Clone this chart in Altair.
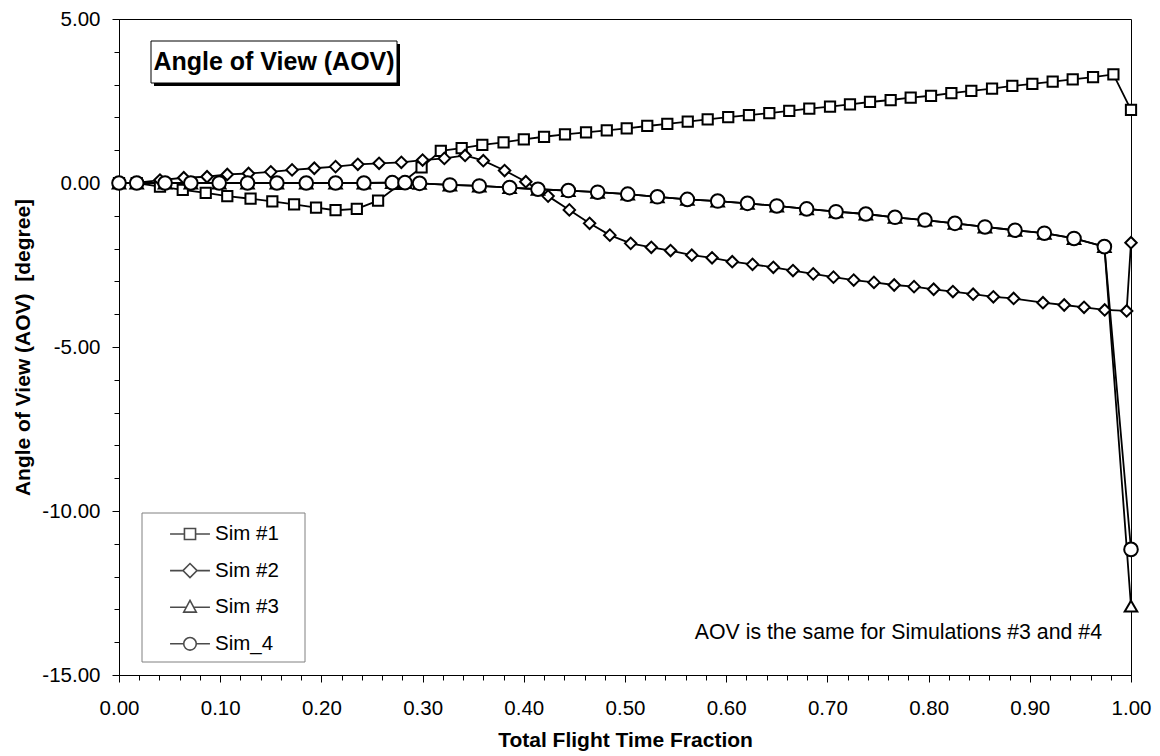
import altair as alt
import pandas as pd

FONT = "Liberation Sans"

series_names = ["Sim #1", "Sim #2", "Sim #3", "Sim_4"]

sim1_x = [0.0, 0.0175, 0.0405, 0.063, 0.0857, 0.107, 0.130, 0.1515, 0.173, 0.1947,
          0.214, 0.235, 0.256, 0.278, 0.299, 0.318, 0.3386, 0.359, 0.380, 0.400,
          0.420, 0.4407, 0.4615, 0.482, 0.5017, 0.522, 0.5418, 0.562, 0.5817, 0.602,
          0.6225, 0.6426, 0.6623, 0.6821, 0.7026, 0.7223, 0.7421, 0.7625, 0.7823, 0.8024,
          0.8225, 0.8422, 0.8627, 0.8827, 0.9025, 0.9226, 0.9424, 0.9625, 0.9826, 1.0]
sim1_y = [0.0, 0.0, -0.11, -0.21, -0.30, -0.40, -0.48, -0.56, -0.65, -0.75,
          -0.83, -0.79, -0.54, -0.03, 0.48, 0.98, 1.06, 1.16, 1.24, 1.33,
          1.41, 1.485, 1.545, 1.605, 1.668, 1.738, 1.80, 1.87, 1.94, 2.01,
          2.07, 2.13, 2.20, 2.265, 2.33, 2.40, 2.47, 2.53, 2.60, 2.66,
          2.74, 2.81, 2.88, 2.96, 3.02, 3.09, 3.16, 3.23, 3.31, 2.23]

sim2_x = [0.0, 0.019, 0.0405, 0.064, 0.087, 0.107, 0.128, 0.150, 0.171, 0.193,
          0.214, 0.236, 0.257, 0.279, 0.300, 0.3215, 0.342, 0.360, 0.381, 0.402,
          0.424, 0.445, 0.465, 0.485, 0.5056, 0.526, 0.545, 0.566, 0.586, 0.606,
          0.626, 0.6466, 0.666, 0.686, 0.706, 0.726, 0.746, 0.766, 0.7856, 0.805,
          0.824, 0.844, 0.864, 0.884, 0.913, 0.934, 0.9536, 0.974, 0.9957, 1.0]
sim2_y = [0.0, 0.01, 0.09, 0.16, 0.19, 0.26, 0.29, 0.34, 0.40, 0.45,
          0.50, 0.57, 0.60, 0.63, 0.70, 0.75, 0.84, 0.68, 0.38, 0.04,
          -0.40, -0.82, -1.23, -1.59, -1.84, -1.96, -2.06, -2.20, -2.28, -2.40,
          -2.48, -2.57, -2.67, -2.77, -2.87, -2.96, -3.03, -3.11, -3.16, -3.24,
          -3.31, -3.39, -3.47, -3.52, -3.65, -3.72, -3.79, -3.87, -3.90, -1.82]

sim34_x = [0.0, 0.0175, 0.0455, 0.071, 0.099, 0.127, 0.156, 0.185, 0.214, 0.242,
           0.270, 0.2826, 0.297, 0.327, 0.356, 0.386, 0.414, 0.444, 0.473, 0.5027,
           0.532, 0.5616, 0.5916, 0.621, 0.650, 0.6795, 0.7085, 0.738, 0.7668, 0.7964,
           0.826, 0.8557, 0.8854, 0.9144, 0.9437, 0.9737, 1.0]
sim3_y = [0.0, 0.0, 0.0, 0.0, 0.0, 0.0, 0.0, 0.0, 0.0, 0.0,
          0.01, 0.01, -0.01, -0.06, -0.09, -0.14, -0.19, -0.23, -0.28, -0.34,
          -0.42, -0.50, -0.55, -0.62, -0.70, -0.79, -0.875, -0.945, -1.046, -1.13,
          -1.23, -1.34, -1.44, -1.53, -1.69, -1.94, -12.9]
sim4_y = [0.0, 0.0, 0.0, 0.0, 0.0, 0.0, 0.0, 0.0, 0.0, 0.0,
          0.01, 0.01, -0.01, -0.06, -0.09, -0.14, -0.19, -0.23, -0.28, -0.34,
          -0.42, -0.50, -0.55, -0.62, -0.70, -0.79, -0.875, -0.945, -1.046, -1.13,
          -1.23, -1.34, -1.44, -1.53, -1.69, -1.94, -11.17]

x_major_ticks = [0.0, 0.1, 0.2, 0.3, 0.4, 0.5, 0.6, 0.7, 0.8, 0.9, 1.0]
x_minor_ticks = [round(i * 0.02, 2) for i in range(51)]
y_major_ticks = [-15, -10, -5, 0, 5]
y_minor_ticks = list(range(-15, 6))

chart_title = "Angle of View (AOV)"
note_text = "AOV is the same for Simulations #3 and #4"
x_title = "Total Flight Time Fraction"
y_title = "Angle of View (AOV)\u00a0 [degree]"

rows = []
for name, xs, ys in [("Sim #1", sim1_x, sim1_y), ("Sim #2", sim2_x, sim2_y),
                     ("Sim #3", sim34_x, sim3_y), ("Sim_4", sim34_x, sim4_y)]:
    for i, (xv, yv) in enumerate(zip(xs, ys)):
        rows.append({"series": name, "x": xv, "y": yv, "idx": i})
df = pd.DataFrame(rows)

W, H = 1012, 656
x_scale = alt.Scale(domain=[0, 1], nice=False, zero=False)
y_scale = alt.Scale(domain=[-15, 5], nice=False, zero=False)

x_axis_major = alt.Axis(
    values=x_major_ticks, orient="bottom", title=x_title, grid=False,
    domainColor="black", domainWidth=1, tickColor="black", tickWidth=1, tickSize=7,
    labelExpr="format(datum.value, '.2f')", labelFont=FONT, labelFontSize=20.5,
    labelColor="black", labelPadding=26, labelBaseline="middle", labelOverlap=False,
    labelFlush=False, titleFont=FONT, titleFontSize=21, titleFontWeight="bold",
    titleColor="black", titleX=506, titleY=65, titleBaseline="middle", titleAlign="center")
y_axis_major = alt.Axis(
    values=y_major_ticks, orient="left", title=y_title, grid=False,
    domainColor="black", domainWidth=1, tickColor="black", tickWidth=1, tickSize=7,
    labelExpr="(datum.value < 0 ? '-' : '') + format(abs(datum.value), '.2f')",
    labelFont=FONT, labelFontSize=20.5, labelColor="black", labelPadding=12,
    labelOverlap=False, labelFlush=False, titleFont=FONT, titleFontSize=21,
    titleFontWeight="bold", titleColor="black", titleAngle=270, titleX=-96, titleY=328,
    titleBaseline="middle", titleAlign="center")
x_axis_minor = alt.Axis(values=x_minor_ticks, orient="bottom", title=None, grid=False,
                        domain=False, labels=False, tickColor="black", tickWidth=1, tickSize=5)
y_axis_minor = alt.Axis(values=y_minor_ticks, orient="left", title=None, grid=False,
                        domain=False, labels=False, tickColor="black", tickWidth=1, tickSize=5)

one = alt.Data(values=[{"a": 1}])

legend_box = alt.Chart(one).mark_rect(fill="white", stroke="#808080", strokeWidth=1).encode(
    x=alt.value(23), x2=alt.value(186), y=alt.value(494), y2=alt.value(643))
title_shadow = alt.Chart(one).mark_rect(color="black").encode(
    x=alt.value(35), x2=alt.value(281), y=alt.value(25), y2=alt.value(67))
title_box = alt.Chart(one).mark_rect(fill="white", stroke="black", strokeWidth=1).encode(
    x=alt.value(32), x2=alt.value(278), y=alt.value(22), y2=alt.value(64))
title_text = alt.Chart(one).mark_text(
    text=chart_title, font=FONT, fontSize=25, fontWeight="bold", color="black",
    align="center", baseline="middle").encode(x=alt.value(155), y=alt.value(43))
note = alt.Chart(one).mark_text(
    text=note_text, font=FONT, fontSize=21.3, color="black", align="right",
    baseline="middle").encode(x=alt.value(983), y=alt.value(614))

lines = alt.Chart(df).mark_line(interpolate="linear", color="black", strokeWidth=1.8).encode(
    x=alt.X("x:Q", scale=x_scale, axis=x_axis_major),
    y=alt.Y("y:Q", scale=y_scale, axis=y_axis_major),
    detail="series:N",
    order="idx:Q",
)

points = alt.Chart(df).mark_point(filled=True, fill="white", stroke="black",
                                  strokeWidth=2, opacity=1).encode(
    x=alt.X("x:Q", scale=x_scale, axis=None),
    y=alt.Y("y:Q", scale=y_scale, axis=None),
    shape=alt.Shape("series:N", scale=alt.Scale(
        domain=series_names, range=["square", "diamond", "triangle-up", "circle"]), legend=None),
    size=alt.Size("series:N", scale=alt.Scale(domain=series_names, range=[105, 185, 220, 140]),
                  legend=None),
)

legend_paths = [
    "M-1.33,0H-0.37M0.37,0H1.33M-0.37,-0.37H0.37V0.37H-0.37Z",
    "M-1.33,0H-0.47M0.47,0H1.33M-0.47,0L0,-0.47L0.47,0L0,0.47Z",
    "M-1.33,0H-0.24M0.24,0H1.33M0,-0.45L0.42,0.33H-0.42Z",
    "M-1.33,0H-0.42M0.42,0H1.33M0.42,0A0.42,0.42,0,1,1,-0.42,0A0.42,0.42,0,1,1,0.42,0Z",
]

legend_layer = alt.Chart(df).transform_filter("datum.x > 2").mark_point(
    filled=False, color="black", strokeWidth=1.5).encode(
    x=alt.X("x:Q", scale=x_scale, axis=x_axis_minor),
    y=alt.Y("y:Q", scale=y_scale, axis=y_axis_minor),
    shape=alt.Shape("series:N", scale=alt.Scale(domain=series_names, range=legend_paths),
                    legend=alt.Legend(title=None, orient="none", legendX=55, legendY=499,
                                      symbolSize=900, symbolStrokeWidth=1.6,
                                      symbolStrokeColor="black", labelFont=FONT,
                                      labelFontSize=20.5, labelColor="black", labelOffset=9,
                                      rowPadding=9.6, padding=0, symbolOffset=0)),
)

chart = alt.layer(
    legend_box, title_shadow, title_box, title_text, lines, points, legend_layer, note
).resolve_scale(shape="independent", size="independent").resolve_axis(
    x="independent", y="independent"
).properties(
    width=W, height=H,
    autosize=alt.AutoSizeParams(type="none"),
    padding={"left": 111, "top": 11, "right": 21, "bottom": 80},
    background="white",
).configure_view(stroke="black", strokeWidth=1)

chart.save("out.html", embed_options={"renderer": "svg", "actions": False})
